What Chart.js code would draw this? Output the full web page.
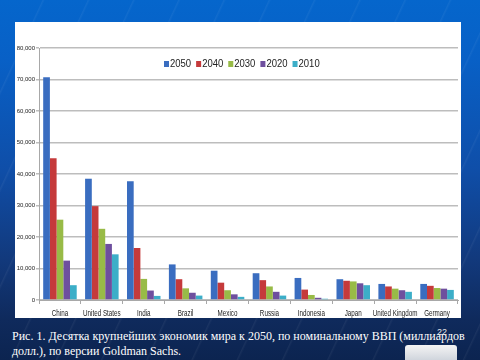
<!DOCTYPE html>
<html><head><meta charset="utf-8">
<script src="https://cdn.jsdelivr.net/npm/chart.js@4/dist/chart.umd.min.js"></script>
<style>
html,body{margin:0;padding:0;width:480px;height:360px;overflow:hidden}
body{position:relative;background:linear-gradient(180deg,#0566cc 0px,#0860c6 60px,#0f4ea8 170px,#12397c 260px,#0f2a5c 320px,#0c2450 360px)}
#streaks{position:absolute;left:0;top:0;width:480px;height:360px;background:repeating-linear-gradient(115deg,rgba(255,255,255,0) 0px,rgba(255,255,255,0) 38px,rgba(255,255,255,0.05) 39px,rgba(255,255,255,0) 41px)}
#panel{position:absolute;left:15px;top:22px;width:446px;height:296px;background:#fff}
#cap{position:absolute;left:12px;top:329px;color:#fff;font-family:'Liberation Serif','Times New Roman',serif;font-size:12px;line-height:15px;white-space:nowrap}
#pg{position:absolute;left:437px;top:327px;color:#e8e8e8;font-family:'Liberation Sans',Arial,sans-serif;font-size:9px}
#icon{position:absolute;left:405px;top:345px;width:52px;height:18px;background:linear-gradient(180deg,#f4f4f4,#c9cfd8);border-radius:3px 3px 0 0}
</style>
</head><body>
<div id="streaks"></div>
<div id="panel"><canvas id="c" width="446" height="296"></canvas></div>
<div id="cap">Рис. 1. Десятка крупнейших экономик мира к 2050, по номинальному ВВП (миллиардов<br>долл.), по версии Goldman Sachs.</div>
<div id="icon"></div>
<div id="pg">22</div>
<script>
const categories = ['China','United States','India','Brazil','Mexico','Russia','Indonesia','Japan','United Kingdom','Germany'];
const seriesNames = ['2050','2040','2030','2020','2010'];
const gdp2050 = [70700, 38500, 37700, 11300, 9300, 8500, 7000, 6600, 5100, 5100];
const gdp2040 = [45000, 29800, 16500, 6600, 5500, 6300, 3300, 6100, 4300, 4500];
const gdp2030 = [25500, 22600, 6700, 3700, 3100, 4300, 1600, 5900, 3600, 3800];
const gdp2020 = [12500, 17800, 3000, 2300, 1800, 2600, 700, 5300, 3100, 3600];
const gdp2010 = [4700, 14500, 1300, 1400, 1000, 1400, 400, 4700, 2600, 3200];
const yTicks = [0,10000,20000,30000,40000,50000,60000,70000,80000];
const colors = ['#3a6dc0','#c53a3b','#98bb47','#6e4f9e','#3caec8'];
const allSeries = [gdp2050, gdp2040, gdp2030, gdp2020, gdp2010];

function squeezedText(ctx, text, x, y, align, sq) {
  ctx.save();
  ctx.translate(x, y);
  ctx.scale(sq, 1);
  ctx.textAlign = align;
  ctx.fillText(text, 0, 0);
  ctx.restore();
}

const labelPlugin = {
  id: 'condensedText',
  afterDraw(chart) {
    const ctx = chart.ctx;
    const ca = chart.chartArea;
    const xs = chart.scales.x;
    ctx.save();
    ctx.fillStyle = '#222';
    ctx.textBaseline = 'middle';
    // category labels (condensed, like Calibri)
    ctx.font = '9.5px "Liberation Sans", Arial, sans-serif';
    chart.data.labels.forEach((lab, i) => {
      squeezedText(ctx, lab, xs.getPixelForTick(i), ca.bottom + 13, 'center', 0.66);
    });
    // legend inside the plot area
    let x = ca.left + 125;
    const y = ca.top + 16;
    ctx.font = '10px "Liberation Sans", Arial, sans-serif';
    chart.data.datasets.forEach(ds => {
      ctx.fillStyle = ds.backgroundColor;
      ctx.fillRect(x, y - 3, 5, 6);
      ctx.fillStyle = '#222';
      squeezedText(ctx, ds.label, x + 6, y, 'left', 0.95);
      x += 6 + ctx.measureText(ds.label).width * 0.95 + 5;
    });
    ctx.restore();
  }
};

new Chart(document.getElementById('c'), {
  type: 'bar',
  data: {
    labels: categories,
    datasets: seriesNames.map((n, i) => ({
      label: n, data: allSeries[i], backgroundColor: colors[i],
      borderWidth: 0, barPercentage: 1.0, categoryPercentage: 0.8
    }))
  },
  options: {
    responsive: false, animation: false, devicePixelRatio: 1,
    layout: { padding: { top: 26, right: 3, left: 0, bottom: 0 } },
    plugins: { legend: { display: false }, tooltip: { enabled: false } },
    scales: {
      x: {
        grid: { display: true, drawOnChartArea: false, tickLength: 4, color: '#a8a8a8' },
        border: { color: '#a8a8a8', width: 1 },
        ticks: { display: false },
        afterFit(s) { s.height = 18; }
      },
      y: {
        min: 0, max: 80000,
        afterBuildTicks(s) { s.ticks = yTicks.map(v => ({ value: v })); },
        grid: { color: '#bdbdbd', lineWidth: 1.5, tickLength: 3 },
        border: { color: '#a8a8a8', width: 1 },
        ticks: { color: '#222', font: { family: '"Liberation Sans", Arial, sans-serif', size: 6 }, padding: 1,
          callback: v => v.toLocaleString('en-US') },
        afterFit(s) { s.width = 24; }
      }
    }
  },
  plugins: [labelPlugin]
});
</script>
</body></html>
